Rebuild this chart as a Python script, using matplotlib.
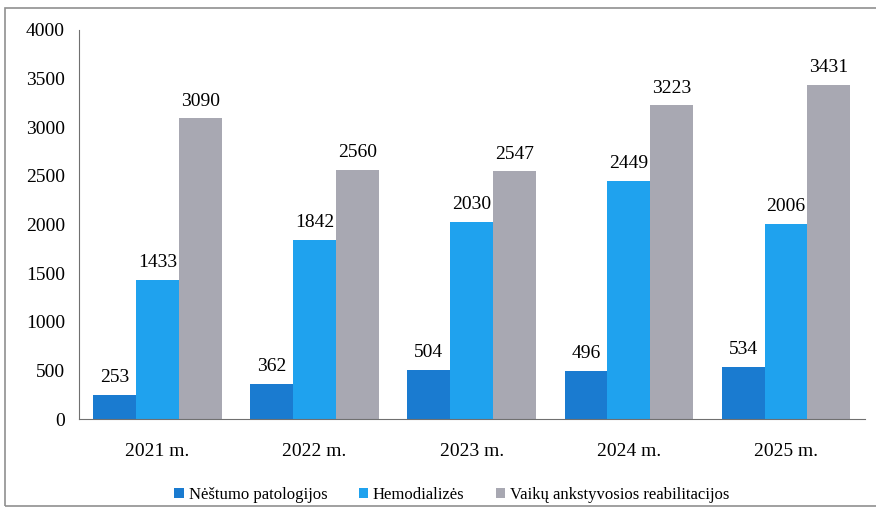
import matplotlib.pyplot as plt
import numpy as np
from matplotlib.patches import Rectangle

years = ["2021 m.", "2022 m.", "2023 m.", "2024 m.", "2025 m."]
nestumo = [253, 362, 504, 496, 534]
hemodializes = [1433, 1842, 2030, 2449, 2006]
vaiku = [3090, 2560, 2547, 3223, 3431]
series_names = ["Nėštumo patologijos", "Hemodializės",
                "Vaikų ankstyvosios reabilitacijos"]
colors = ["#1a7bd0", "#1fa2ee", "#a8a8b2"]

plt.rcParams['font.family'] = ['Liberation Serif', 'DejaVu Serif']

fig = plt.figure(figsize=(8.76, 5.15), dpi=100)
ax = fig.add_axes([0.090, 0.186, 0.897, 0.756])

x = np.arange(len(years))
w = 0.273
for i, vals in enumerate([nestumo, hemodializes, vaiku]):
    bars = ax.bar(x + (i - 1) * w, vals, w, color=colors[i],
                  label=series_names[i], zorder=2)
    for b, v in zip(bars, vals):
        ax.text(b.get_x() + b.get_width() / 2, v + 90, str(v),
                ha='center', va='bottom', fontsize=14)

ax.set_xlim(-0.5, len(years) - 0.5)
ax.set_ylim(0, 4000)
ax.set_yticks(np.arange(0, 4001, 500))
ax.set_xticks(x)
ax.set_xticklabels(years)
ax.tick_params(axis='both', length=0, labelsize=14)
ax.tick_params(axis='y', pad=10)
ax.tick_params(axis='x', pad=17)
for s in ['top', 'right']:
    ax.spines[s].set_visible(False)
ax.spines['left'].set_color('#707070')
ax.spines['bottom'].set_color('#707070')

ax.legend(loc='upper center', bbox_to_anchor=(0.475, -0.135), ncol=3,
          frameon=False, fontsize=12, handlelength=0.55, handleheight=0.55,
          handletextpad=0.3, columnspacing=1.9)

# outer frame of the scanned chart (right side runs off the page)
fig.patches.append(Rectangle((0.006, 0.018), 1.05, 0.966, transform=fig.transFigure,
                             fill=False, edgecolor='#909090', linewidth=1.2))

plt.savefig("out.png", dpi=100)
